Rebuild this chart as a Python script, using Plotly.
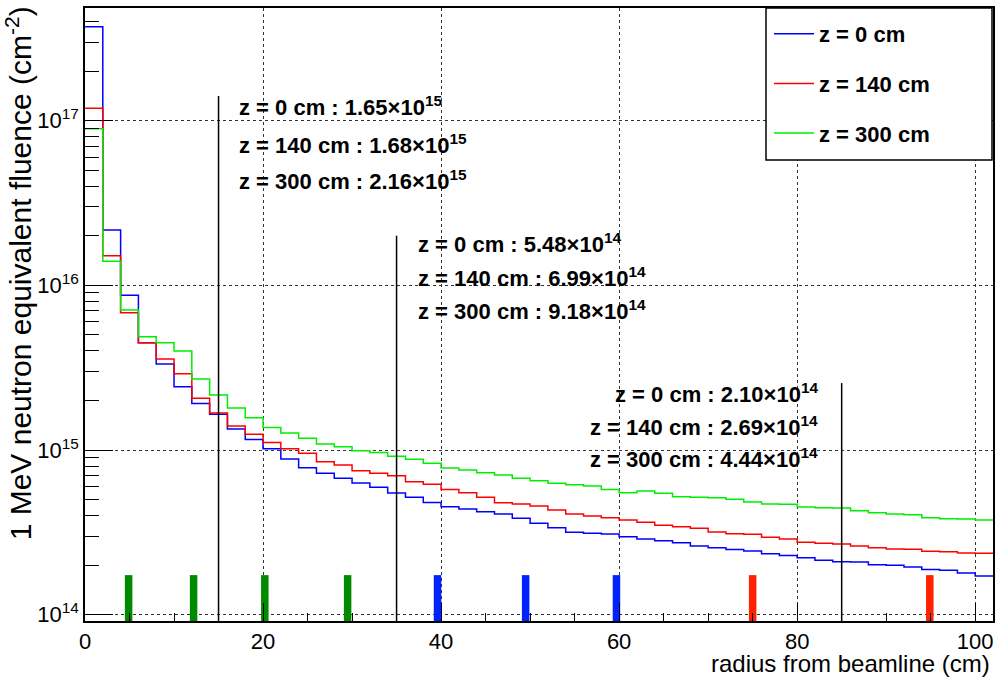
import math
import plotly.graph_objects as go

# ---------------- data ----------------
bin_lo = list(range(0, 102, 2))          # histogram bin low edges (cm), width 2 cm
bin_hi_last = 102

fluence_z0 = [3.72e17, 2.17e16, 8.7e15, 4.48e15, 3.33e15, 2.42e15, 1.92e15, 1.65e15, 1.34e15, 1.16e15,
              1.02e15, 8.82e14, 7.81e14, 7.22e14, 6.73e14, 6.30e14, 5.94e14, 5.48e14, 5.16e14, 4.81e14,
              4.53e14, 4.38e14, 4.22e14, 4.09e14, 3.85e14, 3.59e14, 3.38e14, 3.17e14, 3.13e14, 3.09e14,
              2.98e14, 2.88e14, 2.81e14, 2.74e14, 2.61e14, 2.55e14, 2.49e14, 2.44e14, 2.35e14, 2.29e14,
              2.22e14, 2.14e14, 2.10e14, 2.09e14, 2.01e14, 2.00e14, 1.95e14, 1.88e14, 1.86e14, 1.79e14,
              1.72e14]
fluence_z140 = [1.19e17, 1.51e16, 6.82e15, 4.48e15, 3.57e15, 2.91e15, 2.06e15, 1.68e15, 1.40e15, 1.245e15,
                1.11e15, 1.02e15, 9.55e14, 8.49e14, 8.11e14, 7.49e14, 7.22e14, 6.99e14, 6.42e14, 6.19e14,
                5.77e14, 5.51e14, 5.16e14, 4.79e14, 4.70e14, 4.57e14, 4.32e14, 4.09e14, 3.97e14, 3.88e14,
                3.76e14, 3.64e14, 3.50e14, 3.42e14, 3.35e14, 3.18e14, 3.10e14, 3.08e14, 2.95e14, 2.88e14,
                2.76e14, 2.72e14, 2.69e14, 2.61e14, 2.55e14, 2.51e14, 2.50e14, 2.43e14, 2.41e14, 2.37e14,
                2.36e14]
fluence_z300 = [8.94e16, 1.40e16, 7.08e15, 4.88e15, 4.48e15, 3.99e15, 2.70e15, 2.16e15, 1.80e15, 1.57e15,
                1.37e15, 1.27e15, 1.18e15, 1.09e15, 1.047e15, 9.90e14, 9.66e14, 9.18e14, 8.78e14, 8.30e14,
                7.77e14, 7.56e14, 7.28e14, 7.05e14, 6.73e14, 6.51e14, 6.28e14, 6.16e14, 6.05e14, 5.77e14,
                5.51e14, 5.64e14, 5.46e14, 5.21e14, 5.16e14, 5.13e14, 5.02e14, 4.83e14, 4.70e14, 4.68e14,
                4.51e14, 4.46e14, 4.44e14, 4.28e14, 4.16e14, 4.09e14, 4.05e14, 3.88e14, 3.83e14, 3.82e14,
                3.76e14]
series_names = ["z = 0 cm", "z = 140 cm", "z = 300 cm"]
series_colors = ["#0000ff", "#ff0000", "#00ee00"]

# marker radii with quoted fluences
marker_r = [15, 35, 85]
marker_top = [1.41e17, 2.0e16, 2.55e15]
quoted_z0 = [1.65e15, 5.48e14, 2.10e14]
quoted_z140 = [1.68e15, 6.99e14, 2.69e14]
quoted_z300 = [2.16e15, 9.18e14, 4.44e14]

# detector layer radii (cm)
layers_green = [4.9, 12.2, 20.2, 29.5]
layers_blue = [39.6, 49.5, 59.7]
layers_red = [75.0, 94.9]
layer_top = 1.74e14

x_range = [0, 102]
y_log_range = [13.962, 17.684]
y_bottom = 10 ** y_log_range[0]
y_tick_exp = [14, 15, 16, 17]

FONT = "Liberation Sans, Arial, Helvetica, sans-serif"

# ---------------- figure ----------------
fig = go.Figure()

for name, col, vals in zip(series_names, series_colors, [fluence_z0, fluence_z140, fluence_z300]):
    fig.add_trace(go.Scatter(
        x=bin_lo + [bin_hi_last], y=vals + [vals[-1]],
        mode="lines", line=dict(color=col, width=1.5, shape="hv"),
        name=name, legendgroup=name,
    ))

# vertical black reference lines
for r, top in zip(marker_r, marker_top):
    fig.add_trace(go.Scatter(x=[r, r], y=[y_bottom, top], mode="lines",
                             line=dict(color="black", width=1.5), showlegend=False, hoverinfo="skip"))

# detector layer bars
for layers, col in [(layers_green, "#008a00"), (layers_blue, "#0022ff"), (layers_red, "#ff2200")]:
    xs, ys = [], []
    for r in layers:
        xs += [r, r, None]
        ys += [y_bottom, layer_top, None]
    fig.add_trace(go.Scatter(x=xs, y=ys, mode="lines", line=dict(color=col, width=7.5),
                             showlegend=False, hoverinfo="skip"))


def fmt(v):
    e = int(math.floor(math.log10(v)))
    return f"{v / 10 ** e:.2f}\u00d710<sup>{e}</sup>"


def ypap(pix):
    return (621 - pix) / 613.0


# annotation blocks: (x data, anchor, list of y pixel centres)
blocks = [
    (17.1, "left", [106, 144, 180]),
    (37.2, "left", [243, 277, 310]),
    (82.6, "right", [393, 426, 458]),
]
for i, (xa, anc, ys) in enumerate(blocks):
    for name, vals, yp in zip(series_names, [quoted_z0, quoted_z140, quoted_z300], ys):
        fig.add_annotation(x=xa, xref="x", y=ypap(yp), yref="paper",
                           text=f"<b>{name} : {fmt(vals[i])}</b>", showarrow=False,
                           xanchor=anc, yanchor="middle",
                           font=dict(family=FONT, size=22, color="black"))

# axis titles
fig.add_annotation(x=0.999, xref="paper", y=ypap(663), yref="paper",
                   text="radius from beamline (cm)", showarrow=False,
                   xanchor="right", yanchor="middle",
                   font=dict(family=FONT, size=24, color="black"))
fig.add_annotation(x=(19 - 85) / 908.0, xref="paper", y=1.006, yref="paper",
                   text="1 MeV neutron equivalent fluence (cm<sup>-2</sup>)", showarrow=False,
                   textangle=-90, xanchor="center", yanchor="top",
                   font=dict(family=FONT, size=30, color="black"))

# legend box
fig.add_shape(type="rect", xref="paper", yref="paper",
              x0=(766 - 85) / 908.0, x1=(992 - 85) / 908.0, y0=ypap(160), y1=1.0,
              line=dict(color="black", width=1.5), fillcolor="white", layer="above")

minor_y = [m * 10 ** e for e in range(13, 18) for m in range(2, 10)]

fig.update_layout(
    width=995, height=680,
    margin=dict(l=85, r=2, t=8, b=59, autoexpand=False),
    paper_bgcolor="white", plot_bgcolor="white",
    font=dict(family=FONT, color="black"),
    showlegend=True,
    legend=dict(x=(769 - 85) / 908.0, y=ypap(13), xanchor="left", yanchor="top",
                bgcolor="rgba(0,0,0,0)", borderwidth=0,
                font=dict(family=FONT, size=22, color="black", weight="bold"),
                tracegroupgap=18, itemwidth=40),
    xaxis=dict(range=x_range, showline=True, linecolor="black", linewidth=1.5, mirror=True,
               automargin=False,
               ticks="inside", ticklen=18, tickcolor="black", tickwidth=1,
               dtick=20, tick0=0, tickfont=dict(family=FONT, size=22, color="black"),
               showgrid=True, gridcolor="#333333", griddash="dot", gridwidth=1,
               minor=dict(ticks="inside", ticklen=8, dtick=5, tickcolor="black", showgrid=False),
               zeroline=False),
    yaxis=dict(type="log", range=y_log_range, showline=True, linecolor="black", linewidth=1.5,
               mirror=True, automargin=False,
               ticks="inside", ticklen=28, tickcolor="black", tickwidth=1,
               tickmode="array", tickvals=[10 ** e for e in y_tick_exp],
               ticktext=[f"10<sup>{e}</sup>" for e in y_tick_exp],
               tickfont=dict(family=FONT, size=22, color="black"),
               showgrid=True, gridcolor="#333333", griddash="dot", gridwidth=1,
               minor=dict(ticks="inside", ticklen=14, tickvals=minor_y, tickcolor="black", showgrid=False),
               zeroline=False),
)

fig.write_html("out.html", config={"displayModeBar": False},
               post_script="document.body.style.margin='0px';document.body.style.overflow='hidden';")
